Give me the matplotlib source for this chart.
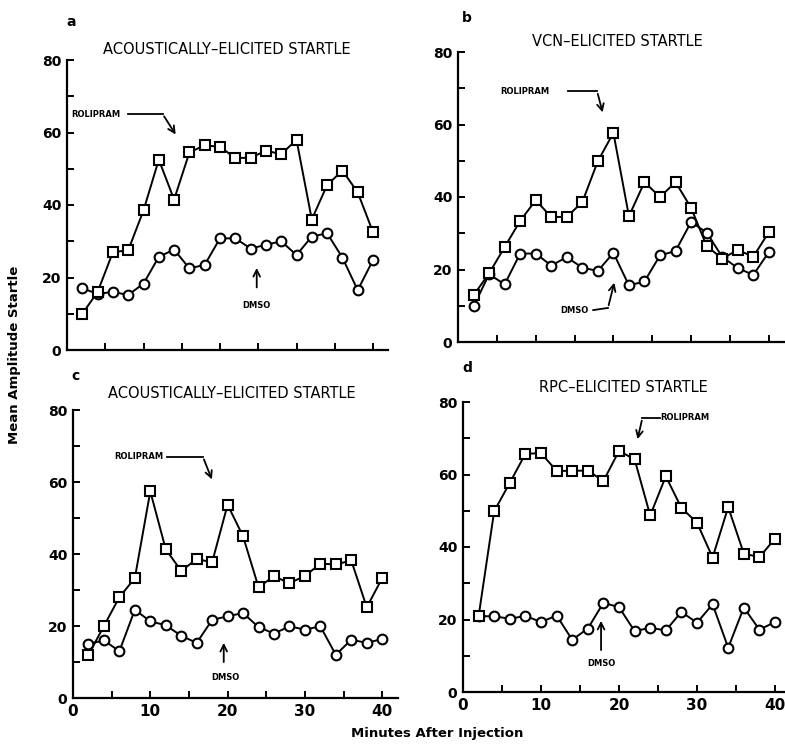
import numpy as np
import matplotlib
matplotlib.use('Agg')
import matplotlib.pyplot as plt

# startle amplitude after injection, rolipram vs DMSO, four panels

minutes = [2, 4, 6, 8, 10, 12, 14, 16, 18, 20, 22, 24, 26, 28, 30, 32, 34, 36, 38, 40]

a_rol = [10, 16, 27, 27.5, 38.5, 52.5, 41.5, 54.5, 56.5, 56, 53, 53, 55, 54, 58, 36, 45.5, 49.5, 43.5, 32.5]
a_dmso = [17, 15.5, 16, 15.2, 18.3, 25.7, 27.7, 22.5, 23.5, 30.8, 30.8, 28, 29, 30, 26.2, 31.3, 32.2, 25.5, 16.5, 24.8]

b_rol = [12.9, 18.9, 26.2, 33.4, 39.1, 34.5, 34.5, 38.6, 49.9, 57.7, 34.7, 44.1, 40, 44.1, 37, 26.5, 23, 25.4, 23.5, 30.3]
b_dmso = [9.8, 18.7, 15.9, 24.4, 24.4, 21.1, 23.4, 20.5, 19.6, 24.6, 15.6, 16.7, 23.9, 25.1, 33.1, 30.2, 23.5, 20.4, 18.5, 24.8]

c_rol = [12, 20, 28, 33.3, 57.4, 41.3, 35.3, 38.6, 37.7, 53.7, 44.9, 30.8, 33.8, 31.9, 33.9, 37.3, 37.1, 38.2, 25.2, 33.3]
c_dmso = [15, 16, 13, 24.5, 21.3, 20.2, 17.3, 15.3, 21.7, 22.7, 23.6, 19.7, 17.9, 19.9, 19, 19.9, 12, 16.2, 15.3, 16.4]

d_rol = [20.9, 49.9, 57.7, 65.7, 65.9, 61, 61, 61.1, 58.2, 66.5, 64.2, 48.7, 59.5, 50.8, 46.7, 37.1, 51, 38.2, 37.2, 42.3]
d_dmso = [20.9, 20.9, 20.2, 21, 19.3, 21.1, 14.4, 17.5, 24.6, 23.4, 16.8, 17.7, 17, 22.1, 19.1, 24.2, 12.2, 23.3, 17.2, 19.3]

titles = ['ACOUSTICALLY\u2013ELICITED STARTLE', 'VCN\u2013ELICITED STARTLE',
          'ACOUSTICALLY\u2013ELICITED STARTLE', 'RPC\u2013ELICITED STARTLE']
letters = ['a', 'b', 'c', 'd']

W, H = 785, 744
fig = plt.figure(figsize=(W / 100, H / 100), dpi=100)

def px(x, y):
    return x / W, 1 - y / H

# axes boxes in pixels: left, top(80), bottom(0), px per minute
boxes = [(67, 60, 350, 7.65), (458, 52, 342, 7.77), (73, 410, 698, 7.73), (463, 402, 692, 7.8)]
axes = []
for (l, t, b, ppm) in boxes:
    x0, y0 = px(l, b)
    ax = fig.add_axes([x0, y0, 42 * ppm / W, (b - t) / H])
    axes.append(ax)

series = [(a_rol, a_dmso), (b_rol, b_dmso), (c_rol, c_dmso), (d_rol, d_dmso)]

for i, ax in enumerate(axes):
    rol, dmso = series[i]
    ax.plot(minutes, dmso, color='black', lw=1.4, marker='o', ms=7, mfc='white', mec='black', mew=1.5, clip_on=False)
    ax.plot(minutes, rol, color='black', lw=1.4, marker='s', ms=7, mfc='white', mec='black', mew=1.5, clip_on=False)
    ax.set_xlim(0, 42)
    ax.set_ylim(0, 80)
    for s in ['top', 'right']:
        ax.spines[s].set_visible(False)
    for s in ['left', 'bottom']:
        ax.spines[s].set_linewidth(1.6)
    ax.spines['left'].set_bounds(0, 80)
    ax.set_yticks(range(0, 90, 10))
    ax.set_yticklabels(['0', '', '20', '', '40', '', '60', '', '80'], fontsize=10, fontweight='bold')
    ax.set_xticks(range(0, 45, 5))
    if i >= 2:
        ax.set_xticklabels(['0', '', '10', '', '20', '', '30', '', '40'], fontsize=11, fontweight='bold')
    else:
        ax.set_xticklabels([])
    ax.tick_params(direction='in', length=5, width=1.4, pad=4)

# titles and panel letters
tpos = [(227, 50), (617, 42), (232, 393), (623, 388)]
lpos = [(71, 22), (467, 18), (76, 376), (467, 368)]
for i in range(4):
    fig.text(*px(*tpos[i]), titles[i], ha='center', va='center', fontsize=10.5)
    fig.text(*px(*lpos[i]), letters[i], ha='center', va='center', fontsize=10, fontweight='bold')

fig.text(*px(15, 355), 'Mean Amplitude Startle', rotation=90, ha='center', va='center', fontsize=9.5, fontweight='bold')
fig.text(*px(437, 733), 'Minutes After Injection', ha='center', va='center', fontsize=9.5, fontweight='bold')

ann = dict(fontsize=6, fontweight='bold')
arr = dict(arrowstyle='->', lw=1.3, color='black', mutation_scale=12)

# panel a
ax = axes[0]
ax.text(0.6, 65.1, 'ROLIPRAM', ha='left', va='center', **ann)
ax.plot([8.0, 12.5], [65.1, 65.1], color='black', lw=1.3)
ax.annotate('', xy=(14.4, 58.8), xytext=(12.5, 65.1), arrowprops=arr)
ax.annotate('', xy=(24.8, 23.4), xytext=(24.8, 16.5), arrowprops=arr)
ax.text(24.8, 12.4, 'DMSO', ha='center', va='center', **ann)

# panel b
ax = axes[1]
ax.text(5.4, 69.2, 'ROLIPRAM', ha='left', va='center', **ann)
ax.plot([14.2, 17.9], [69.2, 69.2], color='black', lw=1.3)
ax.annotate('', xy=(18.7, 62.6), xytext=(17.9, 69.2), arrowprops=arr)
ax.text(13.1, 8.8, 'DMSO', ha='left', va='center', **ann)
ax.plot([17.4, 19.3], [8.8, 9.4], color='black', lw=1.3)
ax.annotate('', xy=(20.2, 17.1), xytext=(19.3, 9.4), arrowprops=arr)

# panel c
ax = axes[2]
ax.text(5.4, 67, 'ROLIPRAM', ha='left', va='center', **ann)
ax.plot([12.2, 16.8], [67, 67], color='black', lw=1.3)
ax.annotate('', xy=(18.1, 60), xytext=(16.8, 67), arrowprops=arr)
ax.annotate('', xy=(19.5, 16.1), xytext=(19.5, 9.2), arrowprops=arr)
ax.text(19.7, 5.6, 'DMSO', ha='center', va='center', **ann)

# panel d
ax = axes[3]
ax.text(25.3, 75.6, 'ROLIPRAM', ha='left', va='center', **ann)
ax.plot([23.0, 25.3], [75.6, 75.6], color='black', lw=1.3)
ax.annotate('', xy=(22.3, 69), xytext=(23.0, 75.6), arrowprops=arr)
ax.annotate('', xy=(17.7, 20.4), xytext=(17.7, 10.8), arrowprops=arr)
ax.text(17.8, 8, 'DMSO', ha='center', va='center', **ann)

fig.savefig('out.png', dpi=100, facecolor='white')
